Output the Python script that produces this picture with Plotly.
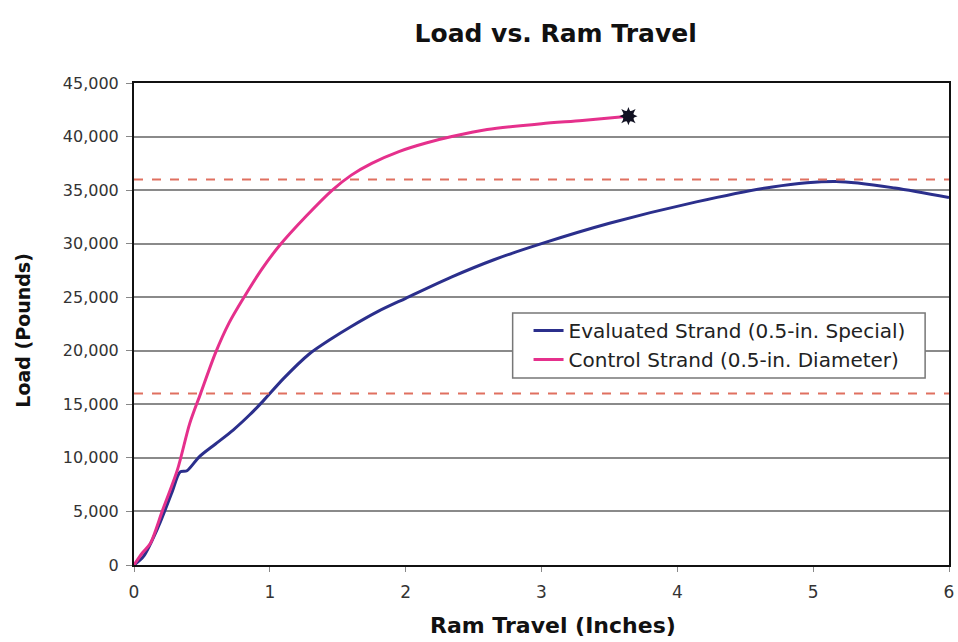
import plotly.graph_objects as go

# Evaluated strand (0.5-in. Special)
eval_x = [0, 0.07, 0.18, 0.28, 0.34, 0.39, 0.48, 0.60, 0.73, 0.85, 0.95, 1.10, 1.29, 1.45, 1.59, 1.80,
          2.00, 2.34, 2.65, 3.00, 3.50, 4.14, 4.70, 5.17, 5.60, 6.00]
eval_y = [0, 800, 3600, 6800, 8700, 8800, 10100, 11300, 12600, 14000, 15300, 17400, 19700, 21100, 22200, 23700,
          24900, 26900, 28500, 30000, 31900, 33900, 35300, 35800, 35200, 34300]

# Control strand (0.5-in. Diameter)
ctrl_x = [0, 0.06, 0.12, 0.21, 0.32, 0.41, 0.49, 0.60, 0.70, 0.81, 0.94, 1.07, 1.27, 1.46, 1.60, 1.75,
          1.95, 2.15, 2.34, 2.60, 3.00, 3.30, 3.64]
ctrl_y = [0, 1100, 2000, 5100, 8900, 13200, 16000, 19800, 22600, 25000, 27600, 29800, 32600, 35000, 36400, 37500,
          38600, 39400, 40000, 40650, 41200, 41500, 41900]

# Failure point of control strand
fail_x = [3.64]
fail_y = [41900]

# Reference (dashed) load levels
ref_levels = [36000, 16000]

y_ticks = [0, 5000, 10000, 15000, 20000, 25000, 30000, 35000, 40000, 45000]
x_ticks = [0, 1, 2, 3, 4, 5, 6]

FONT = "DejaVu Sans, Verdana, sans-serif"

fig = go.Figure()
fig.add_trace(go.Scatter(x=eval_x, y=eval_y, mode="lines", name="Evaluated Strand (0.5-in. Special)",
                         line=dict(color="#2B2F8C", width=3, shape="spline", smoothing=0.8)))
fig.add_trace(go.Scatter(x=ctrl_x, y=ctrl_y, mode="lines", name="Control Strand (0.5-in. Diameter)",
                         line=dict(color="#E5308C", width=3, shape="spline", smoothing=0.8)))
for sym in ["star-square", "star-diamond"]:
    fig.add_trace(go.Scatter(x=fail_x, y=fail_y, mode="markers", showlegend=False,
                             marker=dict(symbol=sym, size=13, color="#111122", line=dict(width=0))))

for lvl in ref_levels:
    fig.add_shape(type="line", xref="paper", x0=0, x1=1, yref="y", y0=lvl, y1=lvl,
                  line=dict(color="#E07060", width=2, dash="dash"), layer="above")

# legend frame
fig.add_shape(type="rect", xref="paper", yref="paper", x0=0.4646, x1=0.9707, y0=0.388, y1=0.5228,
              line=dict(color="#777777", width=1.5), fillcolor="white", layer="above")

fig.update_layout(
    width=958, height=642,
    margin=dict(l=134, r=4, t=83, b=77),
    paper_bgcolor="white", plot_bgcolor="white",
    font=dict(family=FONT, size=16, color="#333333"),
    title=dict(text="<b>Load vs. Ram Travel</b>", x=0.58, xanchor="center", y=0.948, yanchor="middle",
               font=dict(size=25, color="#111111")),
    legend=dict(x=0.4841, y=0.527, xanchor="left", yanchor="top", bgcolor="rgba(0,0,0,0)",
                borderwidth=0, font=dict(size=20, color="#222222"), tracegroupgap=0),
    showlegend=True,
    annotations=[
        dict(text="<b>Ram Travel (Inches)</b>", xref="paper", yref="paper", x=0.5146, y=-0.1265,
             xanchor="center", yanchor="middle", showarrow=False, font=dict(size=22, color="#111111")),
        dict(text="<b>Load (Pounds)</b>", xref="paper", yref="paper", x=-0.1366, y=0.4876, textangle=-90,
             xanchor="center", yanchor="middle", showarrow=False, font=dict(size=19, color="#111111")),
    ],
)
fig.update_xaxes(range=[0, 6], tickvals=x_ticks, showgrid=False, zeroline=False,
                 showline=True, linecolor="#111111", linewidth=2, mirror=True,
                 ticks="outside", ticklen=5, tickcolor="#888888", ticklabelstandoff=6,
                 tickfont=dict(size=17))
fig.update_yaxes(range=[0, 45000], tickvals=y_ticks, tickformat=",d", showgrid=True, gridcolor="#8a8a8a",
                 gridwidth=1.5, zeroline=False,
                 showline=True, linecolor="#111111", linewidth=2, mirror=True,
                 ticks="outside", ticklen=6, tickcolor="#888888", ticklabelstandoff=4,
                 tickfont=dict(size=16))

fig.write_html("out.html")
